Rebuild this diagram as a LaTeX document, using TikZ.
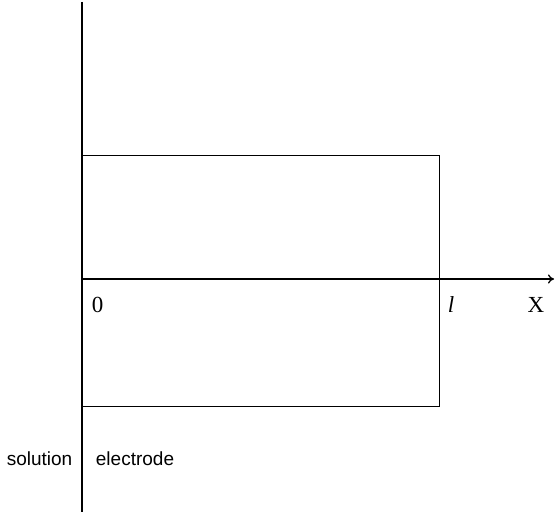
\documentclass[tikz,border=0pt]{standalone}
\usepackage{fontspec}
\setmainfont{Liberation Serif}
\setsansfont{Liberation Sans}
\usetikzlibrary{arrows.meta,positioning}

\begin{document}
\begin{tikzpicture}[x=1pt,y=-1pt,
    axislabel/.style={font=\fontsize{23}{25}\selectfont, inner sep=0pt, anchor=base},
    sidelabel/.style={font=\sffamily\fontsize{19}{21}\selectfont, inner sep=0pt, anchor=base}]
    \useasboundingbox (0,0) rectangle (555,513);
    % interface and axis
    \coordinate (top) at (82,2);
    \coordinate (bottom) at (82,512);
    \coordinate (origin) at (82,279);
    \coordinate (xend) at (554,279);
    \draw[line width=1.8pt] (top) -- (bottom);
    \node[draw, line width=1.1pt, inner sep=0pt, anchor=north west,
          minimum width=357pt, minimum height=251pt] (film) at (82,155) {};
    \draw[line width=1.3pt, -{To[length=6pt,width=9pt]}] (origin) -- (xend);
    % labels
    \node[axislabel] (zero) at (97.5,312.5) {0};
    \node[axislabel] (ell) at (451,312.5) {\textit{l}};
    \node[axislabel] (xlab) at (536,312.5) {X};
    \node[sidelabel] (solution) at (39.5,465) {solution};
    \node[sidelabel] (electrode) at (135,465) {electrode};
\end{tikzpicture}
\end{document}
